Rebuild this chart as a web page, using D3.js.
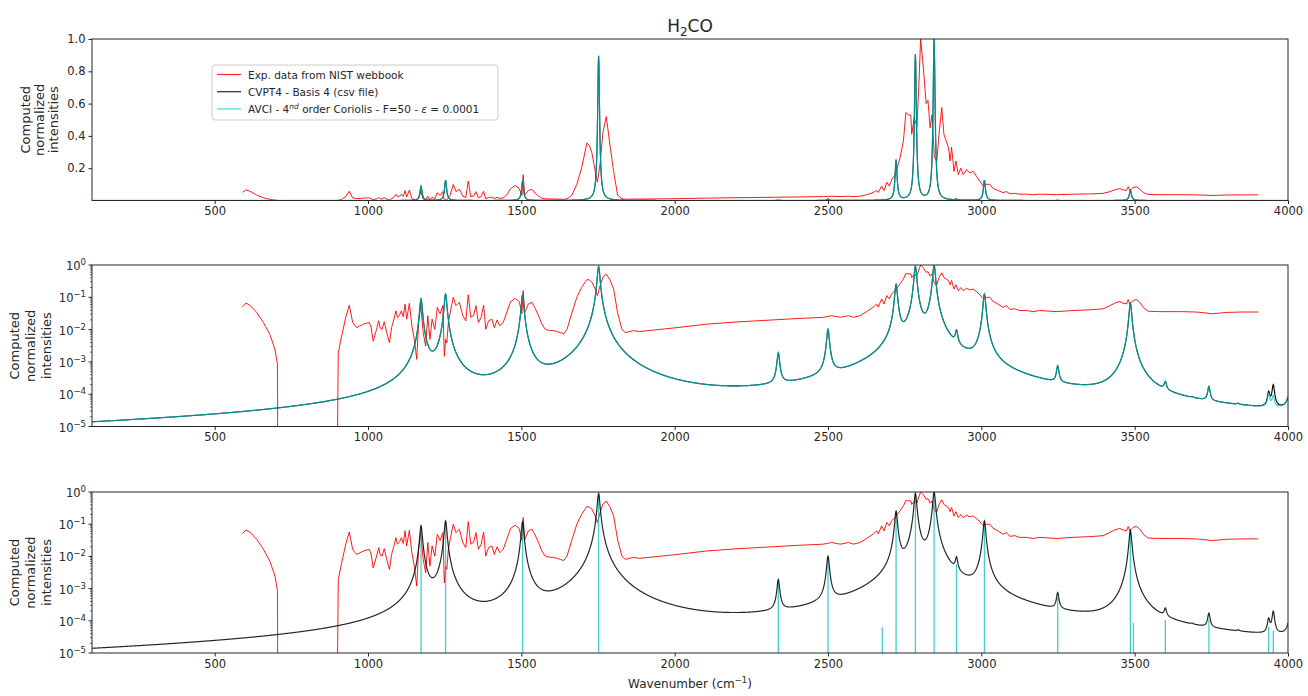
<!DOCTYPE html>
<html>
<head>
<meta charset="utf-8">
<script src="https://cdn.jsdelivr.net/npm/d3@7"></script>
<style>
  body { margin: 0; background: #fff; }
  svg text { font-family: "DejaVu Sans", sans-serif; fill: #262626; }
</style>
</head>
<body>
<svg id="chart" width="1308" height="696"></svg>
<script>
// ---- data ----
// experimental spectrum (NIST), wavenumber / normalized intensity
const expWn = [591, 602, 615, 637, 659, 680, 697, 704, 705, 706, 898, 903, 914, 928, 939, 950, 963, 985, 1004, 1010,
  1017, 1028, 1035, 1040, 1046, 1053, 1061, 1070, 1077, 1084, 1091, 1096, 1102, 1109, 1115, 1121, 1126, 1135, 1143, 1151,
  1159, 1165, 1172, 1180, 1188, 1195, 1202, 1209, 1218, 1226, 1235, 1244, 1249, 1253, 1257, 1262, 1268, 1278, 1287, 1298,
  1309, 1319, 1327, 1335, 1344, 1352, 1360, 1369, 1377, 1384, 1393, 1404, 1412, 1421, 1430, 1441, 1452, 1465, 1480, 1493,
  1502, 1506, 1511, 1523, 1534, 1545, 1556, 1567, 1578, 1590, 1605, 1615, 1627, 1638, 1649, 1665, 1681, 1697, 1714, 1722,
  1730, 1741, 1748, 1757, 1766, 1777, 1790, 1801, 1814, 1828, 1839, 1866, 1885, 2000, 2104, 2200, 2322, 2400, 2485, 2512,
  2540, 2567, 2583, 2605, 2626, 2648, 2659, 2664, 2675, 2683, 2692, 2700, 2708, 2719, 2735, 2746, 2754, 2762, 2770, 2773,
  2781, 2790, 2796, 2802, 2811, 2820, 2826, 2833, 2839, 2847, 2855, 2862, 2871, 2878, 2885, 2893, 2898, 2903, 2911, 2917,
  2925, 2933, 2941, 2952, 2963, 2973, 2984, 2995, 3006, 3017, 3028, 3038, 3054, 3071, 3082, 3093, 3109, 3125, 3147, 3169,
  3190, 3245, 3299, 3353, 3397, 3419, 3435, 3451, 3462, 3473, 3479, 3484, 3495, 3506, 3517, 3528, 3544, 3582, 3650, 3700,
  3730, 3750, 3770, 3800, 3850, 3903];
const expInt = [0.051, 0.066, 0.057, 0.034, 0.0166, 0.0071, 0.0024, 0.00093, 0.0008, 0, 0, 0.0019, 0.0063, 0.025, 0.057, 0.0166, 0.0115, 0.0147, 0.0166, 0.012,
  0.0044, 0.0102, 0.0187, 0.011, 0.0102, 0.0174, 0.0081, 0.0039, 0.0115, 0.02, 0.038, 0.024, 0.027, 0.038, 0.025, 0.062, 0.021, 0.065, 0.013, 0.005,
  0.0012, 0.0166, 0.055, 0.0081, 0.0031, 0.027, 0.005, 0.021, 0.0102, 0.049, 0.031, 0.055, 0.0015, 0.005, 0.0039, 0.0166, 0.033, 0.1, 0.055, 0.07,
  0.027, 0.0187, 0.12, 0.024, 0.027, 0.055, 0.0166, 0.024, 0.057, 0.0102, 0.0187, 0.021, 0.0115, 0.02, 0.013, 0.0166, 0.033, 0.074, 0.093, 0.074,
  0.031, 0.16, 0.033, 0.062, 0.07, 0.046, 0.027, 0.0147, 0.0102, 0.0095, 0.0093, 0.0088, 0.0081, 0.0074, 0.0102, 0.033, 0.1, 0.205, 0.357, 0.34,
  0.295, 0.18, 0.113, 0.23, 0.42, 0.52, 0.33, 0.18, 0.033, 0.0102, 0.0081, 0.0093, 0.0087, 0.0113, 0.0147, 0.0172, 0.020, 0.022, 0.024, 0.027,
  0.024, 0.027, 0.024, 0.027, 0.036, 0.05, 0.062, 0.05, 0.089, 0.062, 0.113, 0.089, 0.13, 0.16, 0.265, 0.37, 0.545, 0.53, 0.53, 0.41,
  0.51, 0.46, 0.7, 1.0, 0.82, 0.6, 0.62, 0.45, 0.53, 0.265, 0.245, 0.41, 0.575, 0.41, 0.37, 0.33, 0.245, 0.33, 0.18, 0.245,
  0.16, 0.2, 0.16, 0.19, 0.17, 0.18, 0.15, 0.12, 0.09, 0.1, 0.1, 0.075, 0.062, 0.049, 0.055, 0.042, 0.044, 0.039, 0.039, 0.036,
  0.039, 0.036, 0.039, 0.041, 0.044, 0.055, 0.066, 0.074, 0.066, 0.062, 0.085, 0.062, 0.08, 0.085, 0.07, 0.049, 0.037, 0.036, 0.036, 0.035,
  0.033, 0.031, 0.032, 0.034, 0.035, 0.035];

// computed transitions (stick spectrum)
const stickWn = [1173, 1253, 1504, 1752, 2338, 2500, 2677, 2722, 2785, 2846, 2919, 3010, 3249, 3486, 3496, 3600, 3688, 3742, 3838, 3937, 3952, 4012];
const avciInt = [0.0887, 0.1257, 0.118, 0.9, 0.0017, 0.0098, 6.2e-5, 0.25, 0.905, 1.0, 0.0057, 0.126, 5.2e-4, 0.065, 8.5e-5, 1.05e-4, 5e-6, 1.1e-4, 4e-6, 6.5e-5, 4.9e-5, 5e-4];
const cvptInt = [0.0887, 0.1257, 0.118, 0.9, 0.0017, 0.0098, 6.2e-5, 0.25, 0.905, 1.0, 0.0057, 0.126, 5.2e-4, 0.065, 8.5e-5, 1.05e-4, 5e-6, 1.1e-4, 4e-6, 7.5e-5, 1.55e-4, 5e-4];

const xTicks = [500, 1000, 1500, 2000, 2500, 3000, 3500, 4000];
const linTicks = [0.2, 0.4, 0.6, 0.8, 1.0];
const logExps = [-5, -4, -3, -2, -1, 0];

const gamma = 4; // Lorentzian half width used for the broadened curves (cm-1)

const colExp = "#ff0000", colCvpt = "#000000", colAvci = "#00bfbf";

// ---- layout ----
const svg = d3.select("#chart");
const left = 92, right = 1288;
const panels = [
  { top: 39, bottom: 200.5, log: false },
  { top: 265, bottom: 426.5, log: true },
  { top: 492, bottom: 653, log: true }
];

const x = d3.scaleLinear().domain([100, 4000]).range([left, right]);

// broadened spectra from the stick list
const grid = d3.range(100, 4001, 1);
function broaden(ints) {
  const ys = grid.map(g => d3.sum(stickWn, (w, i) => ints[i] * gamma * gamma / ((g - w) * (g - w) + gamma * gamma)));
  const m = d3.max(ys);
  return grid.map((g, i) => [g, ys[i] / m]);
}
const avciCurve = broaden(avciInt);
const cvptCurve = broaden(cvptInt);
const expData = expWn.map((w, i) => [w, expInt[i]]);
const stickMax = d3.max(avciInt);

svg.append("text")
  .attr("x", 690).attr("y", 32)
  .attr("text-anchor", "middle")
  .style("font-size", "17px")
  .text("H")
  .call(t => t.append("tspan").attr("dy", 4).style("font-size", "12px").text("2"))
  .call(t => t.append("tspan").attr("dy", -4).text("CO"));

panels.forEach((p, pi) => {
  const y = p.log
    ? d3.scaleLog().domain([1e-5, 1]).range([p.bottom, p.top])
    : d3.scaleLinear().domain([1e-5, 1]).range([p.bottom, p.top]);
  const yv = v => p.log ? y(Math.max(v, 1e-8)) : y(v);

  const g = svg.append("g");
  const clipId = "clip" + pi;
  svg.append("clipPath").attr("id", clipId)
    .append("rect").attr("x", left).attr("y", p.top)
    .attr("width", right - left).attr("height", p.bottom - p.top);

  const line = d3.line().x(d => x(d[0])).y(d => yv(d[1]));
  const plot = g.append("g").attr("clip-path", `url(#${clipId})`);

  plot.append("path").datum(expData)
    .attr("d", line).attr("fill", "none")
    .attr("stroke", colExp).attr("stroke-width", 0.9).attr("stroke-linejoin", "round");

  if (pi < 2) {
    plot.append("path").datum(cvptCurve)
      .attr("d", line).attr("fill", "none")
      .attr("stroke", colCvpt).attr("stroke-width", 1.1);
    plot.append("path").datum(avciCurve)
      .attr("d", line).attr("fill", "none")
      .attr("stroke", colAvci).attr("stroke-opacity", 0.72).attr("stroke-width", 1.3);
  } else {
    plot.selectAll("line.stick")
      .data(stickWn.map((w, i) => [w, avciInt[i] / stickMax]))
      .join("line").attr("class", "stick")
      .attr("x1", d => x(d[0])).attr("x2", d => x(d[0]))
      .attr("y1", p.bottom).attr("y2", d => yv(d[1]))
      .attr("stroke", colAvci).attr("stroke-opacity", 0.75).attr("stroke-width", 1.3);
    plot.append("path").datum(cvptCurve)
      .attr("d", line).attr("fill", "none")
      .attr("stroke", colCvpt).attr("stroke-opacity", 0.85).attr("stroke-width", 1.2);
  }

  // x axis
  const xa = g.append("g").attr("transform", `translate(0,${p.bottom})`)
    .call(d3.axisBottom(x).tickValues(xTicks).tickFormat(d3.format("d")).tickSize(3.5).tickPadding(3));
  xa.select(".domain").remove();
  xa.selectAll("text").style("font-size", "11.5px").attr("fill", "#262626");
  xa.selectAll("line").attr("stroke", "#262626");

  // y axis
  if (!p.log) {
    const ya = g.append("g").attr("transform", `translate(${left},0)`)
      .call(d3.axisLeft(y).tickValues(linTicks).tickFormat(d3.format(".1f")).tickSize(3.5).tickPadding(3));
    ya.select(".domain").remove();
    ya.selectAll("text").style("font-size", "11.5px").attr("fill", "#262626");
    ya.selectAll("line").attr("stroke", "#262626");
  } else {
    const minor = [];
    logExps.slice(0, -1).forEach(e => d3.range(2, 10).forEach(m => minor.push(m * Math.pow(10, e))));
    g.append("g").selectAll("line").data(minor).join("line")
      .attr("x1", left - 2).attr("x2", left)
      .attr("y1", d => y(d)).attr("y2", d => y(d))
      .attr("stroke", "#262626").attr("stroke-width", 0.7);
    const ya = g.append("g");
    ya.selectAll("line").data(logExps).join("line")
      .attr("x1", left - 3.5).attr("x2", left)
      .attr("y1", e => y(Math.pow(10, e))).attr("y2", e => y(Math.pow(10, e)))
      .attr("stroke", "#262626");
    ya.selectAll("text").data(logExps).join("text")
      .attr("x", left - 6).attr("y", e => y(Math.pow(10, e)) + 5)
      .attr("text-anchor", "end")
      .style("font-size", "11.5px")
      .text("10")
      .append("tspan").attr("dy", -5).style("font-size", "8.5px")
      .text(e => e === 0 ? "0" : "\u2212" + Math.abs(e));
  }

  // frame
  g.append("rect").attr("x", left).attr("y", p.top)
    .attr("width", right - left).attr("height", p.bottom - p.top)
    .attr("fill", "none").attr("stroke", "#262626").attr("stroke-width", 1);

  // y label
  const yc = (p.top + p.bottom) / 2;
  const lx = p.log ? [19, 35, 51] : [29.5, 44, 58];
  ["Computed", "normalized", "intensities"].forEach((s, i) => {
    svg.append("text")
      .attr("transform", `translate(${lx[i]},${yc}) rotate(-90)`)
      .attr("text-anchor", "middle")
      .style("font-size", "13px")
      .text(s);
  });

  // legend in the first panel
  if (pi === 0) {
    const lg = svg.append("g").attr("transform", "translate(212,65)");
    lg.append("rect").attr("width", 286).attr("height", 55).attr("rx", 3)
      .attr("fill", "#fff").attr("fill-opacity", 0.8)
      .attr("stroke", "#cccccc").attr("stroke-width", 1);
    const items = [
      { c: colExp, o: 0.85, t: "Exp. data from NIST webbook" },
      { c: colCvpt, o: 0.85, t: "CVPT4 - Basis 4 (csv file)" },
      { c: colAvci, o: 0.7, t: null }
    ];
    items.forEach((it, i) => {
      const yy = 9.5 + i * 17.2;
      lg.append("line").attr("x1", 5).attr("x2", 29).attr("y1", yy).attr("y2", yy)
        .attr("stroke", it.c).attr("stroke-opacity", it.o).attr("stroke-width", 1.2);
      const tx = lg.append("text").attr("x", 36).attr("y", yy + 4).style("font-size", "10.5px");
      if (it.t) tx.text(it.t);
      else {
        tx.append("tspan").text("AVCI - 4");
        tx.append("tspan").attr("dy", -4).style("font-size", "7.5px").style("font-style", "italic").text("nd");
        tx.append("tspan").attr("dy", 4).text(" order Coriolis - F=50 - ");
        tx.append("tspan").style("font-style", "italic").text("\u03b5");
        tx.append("tspan").text(" = 0.0001");
      }
    });
  }
});

svg.append("text")
  .attr("x", 690).attr("y", 688)
  .attr("text-anchor", "middle")
  .style("font-size", "12px")
  .text("Wavenumber (cm")
  .call(t => t.append("tspan").attr("dy", -5).style("font-size", "8.5px").text("\u22121"))
  .call(t => t.append("tspan").attr("dy", 5).text(")"));
</script>
</body>
</html>
